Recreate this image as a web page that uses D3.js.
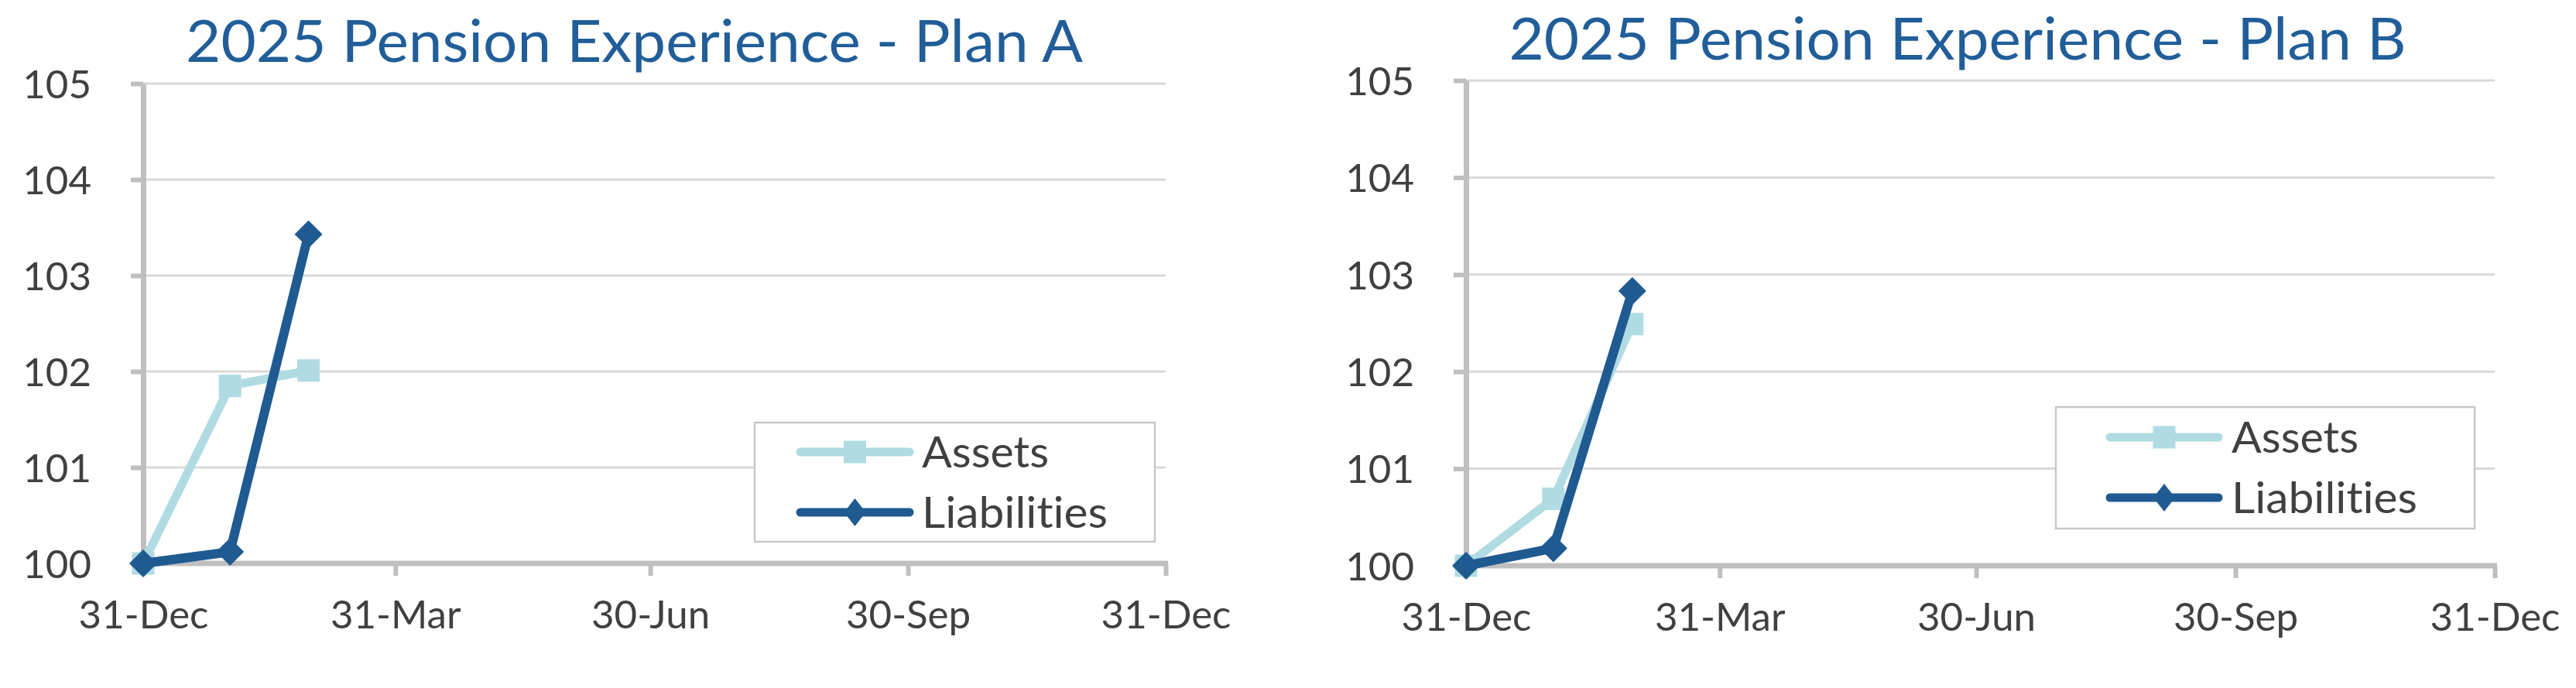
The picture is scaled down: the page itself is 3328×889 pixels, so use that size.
<!DOCTYPE html>
<html>
<head>
<meta charset="utf-8">
<script src="https://cdn.jsdelivr.net/npm/d3@7/dist/d3.min.js"></script>
<style>
  html, body { margin: 0; padding: 0; background: #ffffff; }
  svg { display: block; }
  text { font-variant-ligatures: none; font-feature-settings: "liga" 0, "clig" 0; }
</style>
</head>
<body>
<svg id="chart" width="3328" height="889"></svg>
<script>
// ---- Data ----
const titles = ["2025 Pension Experience - Plan A", "2025 Pension Experience - Plan B"];
const seriesNames = ["Assets", "Liabilities"];
const dates = ["2024-12-31", "2025-01-31", "2025-02-28"];
const planAAssets = [100, 101.85, 102.01];
const planALiabilities = [100, 100.12, 103.43];
const planBAssets = [100, 100.69, 102.49];
const planBLiabilities = [100, 100.18, 102.83];
const xDomain = ["2024-12-31", "2025-12-31"];
const xTickDates = ["2024-12-31", "2025-03-31", "2025-06-30", "2025-09-30", "2025-12-31"];
const yTicks = [100, 101, 102, 103, 104, 105];

// ---- Styles ----
const colAssets = "#b0dbe2";
const colLiab = "#1f5a91";
const colTitle = "#215e99";
const colText = "#404040";
const colAxis = "#bfbfbf";
const colGrid = "#d9d9d9";
const FONT = "Lato, 'Open Sans', 'DejaVu Sans', sans-serif";

const parse = d3.utcParse("%Y-%m-%d");
const fmt = d3.utcFormat("%d-%b");

const layouts = [
  { x0: 185, x1: 1506, yTop: 108, yBot: 728, titleCx: 819.5, titleBase: 80, titleW: 1159,
    legend: { x: 975, y: 546, w: 517, h: 154, lx0: 1028, lx1: 1181, rows: [584, 662], tx: 1191 } },
  { x0: 1894, x1: 3223, yTop: 104, yBot: 731, titleCx: 2529, titleBase: 77, titleW: 1159,
    legend: { x: 2656, y: 526, w: 541, h: 157, lx0: 2720, lx1: 2872, rows: [565, 643], tx: 2883 } }
];
const legendTextW = [164, 240];
const seriesData = [
  [planAAssets, planALiabilities],
  [planBAssets, planBLiabilities]
];

const svg = d3.select("#chart");
svg.append("rect").attr("width", 3328).attr("height", 889).attr("fill", "#fff");

function diamondPath(cx, cy, w, h) {
  return `M${cx},${cy - h / 2}L${cx + w / 2},${cy}L${cx},${cy + h / 2}L${cx - w / 2},${cy}Z`;
}
function fitText(sel, target) {
  const n = sel.node();
  const w = n.getComputedTextLength();
  if (Math.abs(w - target) / target > 0.02) {
    sel.attr("textLength", target).attr("lengthAdjust", "spacingAndGlyphs");
  }
}

layouts.forEach((L, ci) => {
  const g = svg.append("g");
  const x = d3.scaleUtc().domain(xDomain.map(parse)).range([L.x0, L.x1]);
  const y = d3.scaleLinear().domain([yTicks[0], yTicks[yTicks.length - 1]]).range([L.yBot, L.yTop]);

  // Gridlines
  g.append("g").selectAll("line")
    .data(yTicks.slice(1))
    .join("line")
    .attr("x1", L.x0).attr("x2", L.x1)
    .attr("y1", d => y(d)).attr("y2", d => y(d))
    .attr("stroke", colGrid).attr("stroke-width", 3);

  // Y axis
  const yAxis = g.append("g")
    .attr("transform", `translate(${L.x0},0)`)
    .call(d3.axisLeft(y).tickValues(yTicks).tickSize(16).tickSizeOuter(0).tickPadding(51).tickFormat(d3.format("d")));
  yAxis.select(".domain").attr("stroke", colAxis).attr("stroke-width", 7);
  yAxis.selectAll(".tick line").attr("stroke", colAxis).attr("stroke-width", 6);
  yAxis.selectAll(".tick text")
    .attr("fill", colText).attr("font-family", FONT).attr("font-size", 51)
    .attr("dy", "0.36em");

  // X axis
  const xAxis = g.append("g")
    .attr("transform", `translate(0,${L.yBot})`)
    .call(d3.axisBottom(x).tickValues(xTickDates.map(parse)).tickSize(16).tickSizeOuter(0).tickFormat(fmt));
  xAxis.select(".domain").attr("stroke", colAxis).attr("stroke-width", 7)
    .attr("d", `M${L.x0 - 3.5},0H${L.x1 + 3}`);
  xAxis.selectAll(".tick line").attr("stroke", colAxis).attr("stroke-width", 6);
  xAxis.selectAll(".tick text")
    .attr("fill", colText).attr("font-family", FONT).attr("font-size", 51)
    .attr("y", 84).attr("dy", 0);

  // Title
  const t = g.append("text")
    .attr("x", L.titleCx).attr("y", L.titleBase)
    .attr("text-anchor", "middle")
    .attr("fill", colTitle).attr("font-family", FONT).attr("font-size", 76)
    .text(titles[ci]);
  fitText(t, L.titleW);

  // Series
  const [assets, liab] = seriesData[ci];
  const pts = arr => arr.map((v, i) => ({ d: parse(dates[i]), v }));
  const line = d3.line().x(d => x(d.d)).y(d => y(d.v));

  // Assets
  g.append("path").datum(pts(assets))
    .attr("d", line).attr("fill", "none")
    .attr("stroke", colAssets).attr("stroke-width", 11)
    .attr("stroke-linejoin", "round").attr("stroke-linecap", "round");
  g.append("g").selectAll("path")
    .data(pts(assets)).join("path")
    .attr("d", d3.symbol(d3.symbolSquare, 29 * 29))
    .attr("transform", d => `translate(${x(d.d)},${y(d.v)})`)
    .attr("fill", colAssets);

  // Liabilities
  g.append("path").datum(pts(liab))
    .attr("d", line).attr("fill", "none")
    .attr("stroke", colLiab).attr("stroke-width", 12)
    .attr("stroke-linejoin", "round").attr("stroke-linecap", "round");
  g.append("g").selectAll("path")
    .data(pts(liab)).join("path")
    .attr("d", d => diamondPath(x(d.d), y(d.v), 36, 36))
    .attr("fill", colLiab);

  // Legend
  const lg = L.legend;
  const leg = g.append("g");
  leg.append("rect")
    .attr("x", lg.x).attr("y", lg.y).attr("width", lg.w).attr("height", lg.h)
    .attr("fill", "#fff").attr("stroke", "#c8c8c8").attr("stroke-width", 2.5);
  const cols = [colAssets, colLiab];
  seriesNames.forEach((name, i) => {
    const ry = lg.rows[i];
    const cx = (lg.lx0 + lg.lx1) / 2;
    leg.append("line")
      .attr("x1", lg.lx0 + 6).attr("x2", lg.lx1 - 6).attr("y1", ry).attr("y2", ry)
      .attr("stroke", cols[i]).attr("stroke-width", 11).attr("stroke-linecap", "round");
    if (i === 0) {
      leg.append("path")
        .attr("d", d3.symbol(d3.symbolSquare, 29 * 29))
        .attr("transform", `translate(${cx},${ry})`)
        .attr("fill", cols[i]);
    } else {
      leg.append("path")
        .attr("d", diamondPath(cx, ry, 28, 36))
        .attr("fill", cols[i]);
    }
    const lt = leg.append("text")
      .attr("x", lg.tx).attr("y", ry + 20)
      .attr("fill", colText).attr("font-family", FONT).attr("font-size", 56)
      .text(name);
    fitText(lt, legendTextW[i]);
  });
});
</script>
</body>
</html>
